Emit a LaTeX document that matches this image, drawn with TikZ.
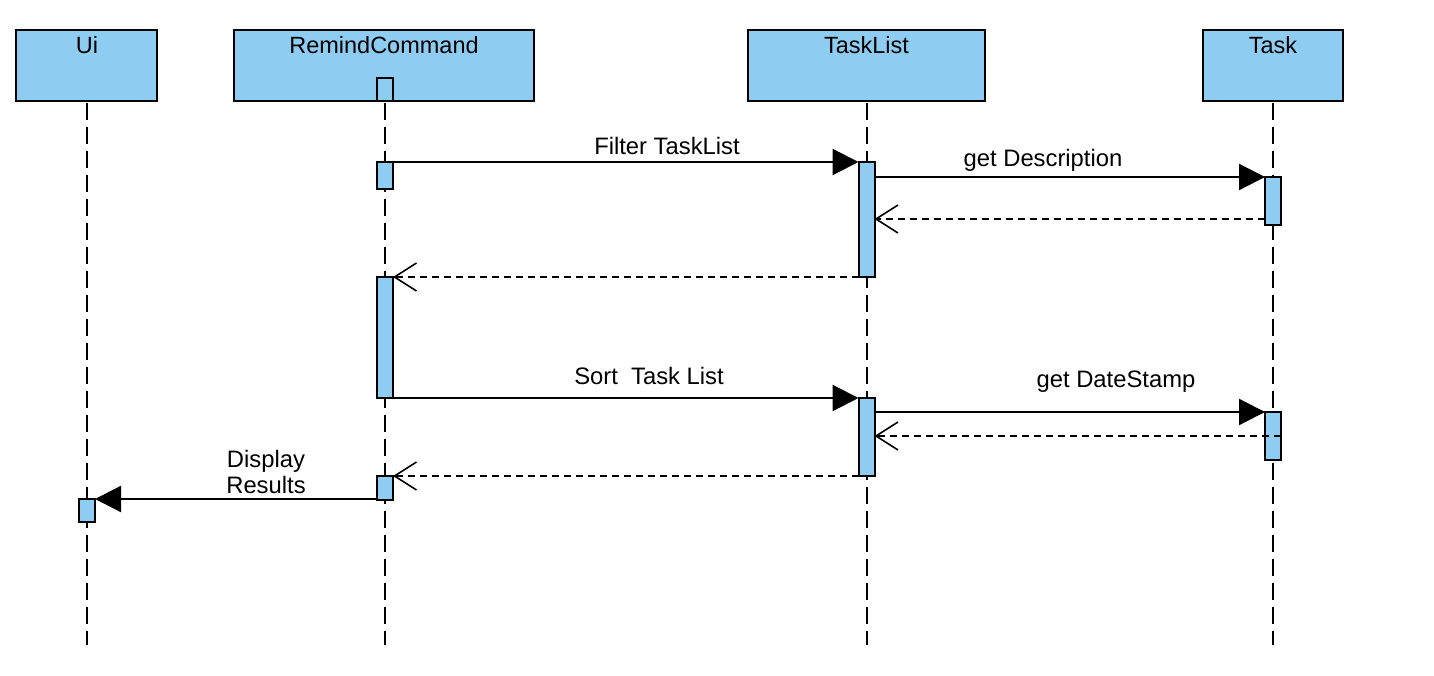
\documentclass[tikz,border=0pt]{standalone}
\usepackage{fontspec}
\setmainfont{Liberation Sans}
\usetikzlibrary{arrows.meta}
\definecolor{lb}{HTML}{8ECDF1}
\begin{document}
\begin{tikzpicture}[x=1pt,y=-1pt,
  head/.style={draw, fill=lb, line width=2.2pt, inner sep=0pt, outer sep=0pt},
  htext/.style={anchor=base, font=\fontsize{23.5}{26}\selectfont, inner sep=0pt},
  mtext/.style={anchor=base, font=\fontsize{23.8}{26}\selectfont, inner sep=0pt, align=center},
  life/.style={line width=2pt, dash pattern=on 17pt off 7pt},
  act/.style={draw, fill=lb, line width=2pt, minimum width=16pt, inner sep=0pt, outer sep=0pt},
  msg/.style={line width=2.2pt, -{Triangle[length=26pt,width=26pt]}},
  ret/.style={line width=1.8pt, dash pattern=on 7pt off 5pt, -{Straight Barb[length=22pt,width=28pt,line width=1.6pt]}}
]
\useasboundingbox (0,0) rectangle (1434,676);

% heads
\node[head, minimum width=141pt, minimum height=71pt] (ui) at (86.5,65.5) {};
\node[head, minimum width=300pt, minimum height=71pt] (rc) at (384,65.5) {};
\node[head, minimum width=237pt, minimum height=71pt] (tl) at (866.5,65.5) {};
\node[head, minimum width=140pt, minimum height=71pt] (tk) at (1273,65.5) {};
\node[htext] (uit) at (87,54) {Ui};
\node[htext] (rct) at (384,54) {RemindCommand};
\node[htext] (tlt) at (866.5,54) {TaskList};
\node[htext] (tkt) at (1273,54) {Task};

% lifeline ends
\coordinate (uiend) at (87,645);
\coordinate (rcend) at (385,645);
\coordinate (tlend) at (866.5,645);
\coordinate (tkend) at (1273,645);
\draw[life] (87,103) -- (uiend);
\draw[life] (385,103) -- (rcend);
\draw[life] (866.5,103) -- (tlend);
\draw[life] (1273,103) -- (tkend);

% activations
\node[act, minimum height=23pt] (rc0) at (385,89.5) {};
\node[act, minimum height=27pt] (rc1) at (385,175.5) {};
\node[act, minimum height=115pt] (tl1) at (866.5,219.5) {};
\node[act, minimum height=48pt] (t1) at (1273,201) {};
\node[act, minimum height=121pt] (rc2) at (385,337.5) {};
\node[act, minimum height=78pt] (tl2) at (866.5,437) {};
\node[act, minimum height=48pt] (t2) at (1273,436) {};
\node[act, minimum height=24pt] (rc3) at (385,488) {};
\node[act, minimum height=23pt] (ui1) at (87,510.5) {};

% messages
\draw[msg] (rc1.north east) -- (tl1.north west);
\node[mtext] (l1) at (667,155) {Filter TaskList};
\draw[msg] (tl1.east |- t1.north) -- (t1.north west);
\node[mtext] (l2) at (1043,167) {get Description};
\coordinate (r1) at (1265,219);
\draw[ret] (r1) -- (tl1.east |- r1);
\draw[ret] (tl1.south west) -- (rc2.north east);
\draw[msg] (rc2.south east) -- (tl2.north west);
\node[mtext] (l3) at (649,384) {Sort\ \ Task List};
\draw[msg] (tl2.east |- t2.north) -- (t2.north west);
\node[mtext] (l4) at (1116,387) {get DateStamp};
\coordinate (r2) at (1281,436);
\draw[ret] (r2) -- (tl2.east |- r2);
\draw[ret] (tl2.south west) -- (rc3.north east);
\draw[msg] (rc3.west |- ui1.north) -- (ui1.north east);
\node[mtext] (l5) at (266,493) {Display\\Results};
\end{tikzpicture}
\end{document}
